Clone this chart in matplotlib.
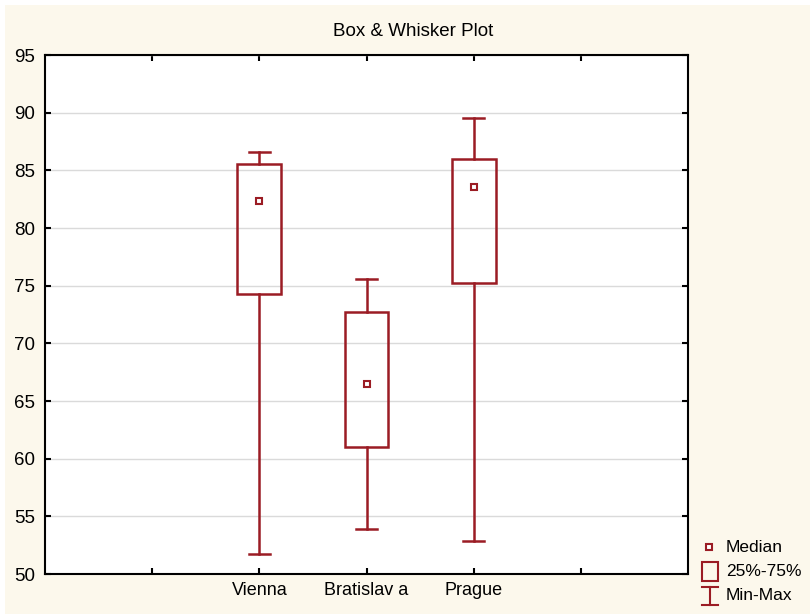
import matplotlib
matplotlib.use("Agg")
import matplotlib.pyplot as plt
from matplotlib.patches import Rectangle
from matplotlib.lines import Line2D

categories = ["Vienna", "Bratislav a", "Prague"]
mins = [51.7, 53.9, 52.9]
q1 = [74.3, 61.0, 75.25]
medians = [82.3, 66.5, 83.55]
q3 = [85.55, 72.75, 86.0]
maxs = [86.6, 75.6, 89.55]

plt.rcParams['font.family'] = ['Liberation Sans', 'DejaVu Sans']
red = '#9B1C24'
cream = '#FCF8EC'

fig = plt.figure(figsize=(8.1, 6.14), dpi=100)
fig.patch.set_facecolor('white')
fig.add_artist(Rectangle((5/810, 0), 1, 1 - 5/614, transform=fig.transFigure,
                         facecolor=cream, edgecolor='none', zorder=-10))
ax = fig.add_axes([45/810, 1 - 574/614, (688 - 45)/810, (574 - 55)/614])
ax.set_facecolor('white')

positions = [2, 3, 4]
bw = 0.41
cw = 0.2
for x, lo, a, m, b, hi in zip(positions, mins, q1, medians, q3, maxs):
    ax.add_patch(Rectangle((x - bw/2, a), bw, b - a, facecolor='none', edgecolor=red, lw=1.8, zorder=3))
    ax.plot([x, x], [hi, b], color=red, lw=1.8, zorder=3)
    ax.plot([x, x], [lo, a], color=red, lw=1.8, zorder=3)
    ax.plot([x - cw/2, x + cw/2], [hi, hi], color=red, lw=1.8, zorder=3)
    ax.plot([x - cw/2, x + cw/2], [lo, lo], color=red, lw=1.8, zorder=3)
    ax.plot([x], [m], marker='s', ms=5, mfc='white', mec=red, mew=1.5, zorder=4)

ax.set_xlim(0, 6)
ax.set_ylim(50, 95)
ax.set_yticks(range(50, 96, 5))
ax.set_xticks([1, 2, 3, 4, 5])
ax.set_xticklabels(['', categories[0], categories[1], categories[2], ''])
ax.grid(axis='y', color='#DADADA', lw=1)
ax.set_axisbelow(True)
ax.tick_params(direction='in', length=4, width=1.5, top=True, right=True, colors='black')
ax.tick_params(axis='y', labelsize=13.5, pad=7)
ax.tick_params(axis='x', labelsize=13, pad=6)
for s in ax.spines.values():
    s.set_linewidth(1.5)
fig.text(413/810, 1 - 31/614, 'Box & Whisker Plot', fontsize=13.5, ha='center', va='center')

# legend drawn in figure pixel coords
def fx(px): return px / 810
def fy(py): return 1 - py / 614
fig.add_artist(Line2D([fx(709)], [fy(547)], marker='s', ms=5, mfc='white', mec=red, mew=1.5, transform=fig.transFigure))
fig.add_artist(Rectangle((fx(702), fy(581)), fx(16), 19/614, transform=fig.transFigure, facecolor='none', edgecolor=red, lw=1.5))
fig.add_artist(Line2D([fx(710), fx(710)], [fy(587), fy(605)], color=red, lw=1.5, transform=fig.transFigure))
fig.add_artist(Line2D([fx(702), fx(718)], [fy(587), fy(587)], color=red, lw=1.5, transform=fig.transFigure))
fig.add_artist(Line2D([fx(702), fx(718)], [fy(605), fy(605)], color=red, lw=1.5, transform=fig.transFigure))
for ty, t in [(547, 'Median'), (572, '25%-75%'), (596, 'Min-Max')]:
    fig.text(fx(726), fy(ty), t, fontsize=12.5, va='center', ha='left')

fig.savefig('out.png', dpi=100, facecolor=fig.get_facecolor())
